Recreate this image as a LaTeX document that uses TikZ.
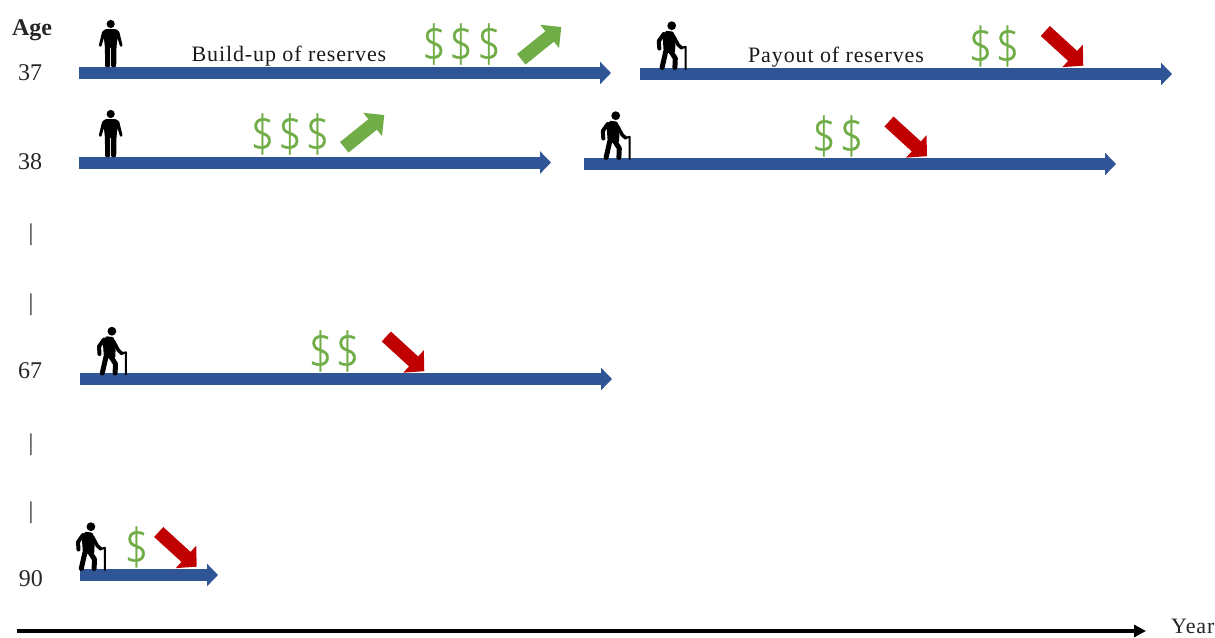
\documentclass[tikz,border=0pt]{standalone}
\usepackage{fontspec}
\setmainfont{Liberation Serif}
\newfontfamily\dollarfont{Open Sans Light}[FakeBold=0.8]
\newfontfamily\labelfont{Liberation Serif}[LetterSpace=4]
\usetikzlibrary{arrows.meta}
\definecolor{barblue}{RGB}{47,85,151}
\definecolor{upgreen}{RGB}{112,173,71}
\definecolor{downred}{RGB}{192,0,0}
\newcommand{\dollarsign}{\scalebox{0.82}[1]{\$}}
\tikzset{
  x=1pt,y=-1pt,
  lifebar/.style={draw=barblue,line width=12pt,-{Triangle[width=22pt,length=11pt]}},
  uparrow/.style={draw=upgreen,line width=13.5pt,-{Triangle[width=29pt,length=15pt]}},
  downarrow/.style={draw=downred,line width=13.5pt,-{Triangle[width=29.5pt,length=14.5pt]}},
  timeaxis/.style={draw=black,line width=3.8pt,-{Triangle[width=12pt,length=12pt]}},
  agetext/.style={font=\fontsize{24}{26}\selectfont,inner sep=0pt,text=black!85},
  labeltext/.style={font=\fontsize{22}{24}\labelfont,inner sep=0pt,text=black!90},
  dollar/.style={font=\fontsize{50}{54}\dollarfont,inner sep=0pt,text=upgreen},
  young/.pic={
    \fill[black] (0,-43) circle (4.1);
    \fill[black,rounded corners=1pt] (-5,-38) -- (5,-38) -- (8.5,-35.5) -- (12,-21) -- (9.5,-20) -- (6.8,-29) -- (5.8,-20) -- (5.5,0) -- (0.5,0) -- (0.5,-20) -- (-0.5,-20) -- (-0.5,0) -- (-5.5,0) -- (-5.8,-20) -- (-6.8,-29) -- (-9.5,-20) -- (-12,-21) -- (-8.5,-35.5) -- cycle;
  },
  elder/.pic={
    \fill[black] (-0.6,-43.3) circle (4.4);
    \fill[black,rounded corners=1pt] (-6.6,-38.3) -- (1,-37.3) -- (3.4,-30.7) -- (2.7,-16.7) -- (-8.5,-15.7) -- (-9.5,-30) -- cycle;
    \draw[black,line width=4pt,line cap=round,line join=round] (-8.5,-35) -- (-13.5,-28) -- (-13,-20.5);
    \draw[black,line width=3.5pt,line cap=round,line join=round] (1,-33.3) -- (6,-24) -- (9.5,-21);
    \draw[black,line width=5pt,line cap=round,line join=round] (-6.6,-17.3) -- (-10.2,-1.5);
    \draw[black,line width=5pt,line cap=round,line join=round] (-1.3,-17.3) -- (3,-10.7) -- (2.6,-1.5);
    \draw[black,line width=2pt,line cap=round,line join=round] (8.7,-20.7) -- (13.3,-22.3) -- (13.3,0);
  }
}
\begin{document}
\begin{tikzpicture}
\useasboundingbox (0,0) rectangle (1215,637);
% end points of bars
\coordinate (a1) at (79,73); \coordinate (a2) at (611,73);
\coordinate (b1) at (640,74); \coordinate (b2) at (1172,74);
\coordinate (c1) at (79,162.5); \coordinate (c2) at (551,162.5);
\coordinate (d1) at (584,164); \coordinate (d2) at (1116,164);
\coordinate (e1) at (80,379); \coordinate (e2) at (612,379);
\coordinate (f1) at (80,575); \coordinate (f2) at (218,575);
\coordinate (t1) at (17,631); \coordinate (t2) at (1146,631);
\draw[lifebar] (a1) -- (a2);
\draw[lifebar] (b1) -- (b2);
\draw[lifebar] (c1) -- (c2);
\draw[lifebar] (d1) -- (d2);
\draw[lifebar] (e1) -- (e2);
\draw[lifebar] (f1) -- (f2);
\draw[timeaxis] (t1) -- (t2);
% trend arrows
\coordinate (u1s) at (521.3,59.3); \coordinate (u1e) at (561.3,27);
\coordinate (u2s) at (344.3,147.3); \coordinate (u2e) at (384.3,115);
\coordinate (r1s) at (1045.3,31); \coordinate (r1e) at (1083.3,65.7);
\coordinate (r2s) at (889,121.5); \coordinate (r2e) at (927,156.2);
\coordinate (r3s) at (386.3,336.5); \coordinate (r3e) at (424.3,371.2);
\coordinate (r4s) at (158.7,532); \coordinate (r4e) at (196.7,566.7);
\draw[uparrow] (u1s) -- (u1e);
\draw[uparrow] (u2s) -- (u2e);
\draw[downarrow] (r1s) -- (r1e);
\draw[downarrow] (r2s) -- (r2e);
\draw[downarrow] (r3s) -- (r3e);
\draw[downarrow] (r4s) -- (r4e);
% figures
\pic at (110.7,67) {young};
\pic at (110.7,157) {young};
\pic at (672.3,69) {elder};
\pic at (616.3,159) {elder};
\pic at (112.5,374.5) {elder};
\pic at (91.5,570) {elder};
% dollars
\node[dollar] (d11) at (434,44) {\dollarsign};
\node[dollar] (d12) at (461,44) {\dollarsign};
\node[dollar] (d13) at (489,44) {\dollarsign};
\node[dollar] (d21) at (980.5,46) {\dollarsign};
\node[dollar] (d22) at (1007.5,46) {\dollarsign};
\node[dollar] (d31) at (262.5,134) {\dollarsign};
\node[dollar] (d32) at (290,134) {\dollarsign};
\node[dollar] (d33) at (317.5,134) {\dollarsign};
\node[dollar] (d41) at (824,136) {\dollarsign};
\node[dollar] (d42) at (851.5,136) {\dollarsign};
\node[dollar] (d51) at (320.5,351) {\dollarsign};
\node[dollar] (d52) at (347.5,351) {\dollarsign};
\node[dollar] (d61) at (136.5,547) {\dollarsign};
% labels
\node[agetext,font=\fontsize{24}{26}\selectfont\bfseries,anchor=base] (age) at (32,35) {Age};
\node[agetext] (n37) at (30,73) {37};
\node[agetext] (n38) at (30,162) {38};
\node[agetext] (n67) at (30,371) {67};
\node[agetext] (n90) at (31,579) {90};
\node[agetext] (s1) at (31,235) {|};
\node[agetext] (s2) at (31,305) {|};
\node[agetext] (s3) at (31,445) {|};
\node[agetext] (s4) at (31,513) {|};
\node[labeltext,anchor=base] (build) at (289,61) {Build-up of reserves};
\node[labeltext,anchor=base] (pay) at (836,62) {Payout of reserves};
\node[labeltext,text=black!85,anchor=base west] (year) at (1171,633) {Year};
\end{tikzpicture}
\end{document}
